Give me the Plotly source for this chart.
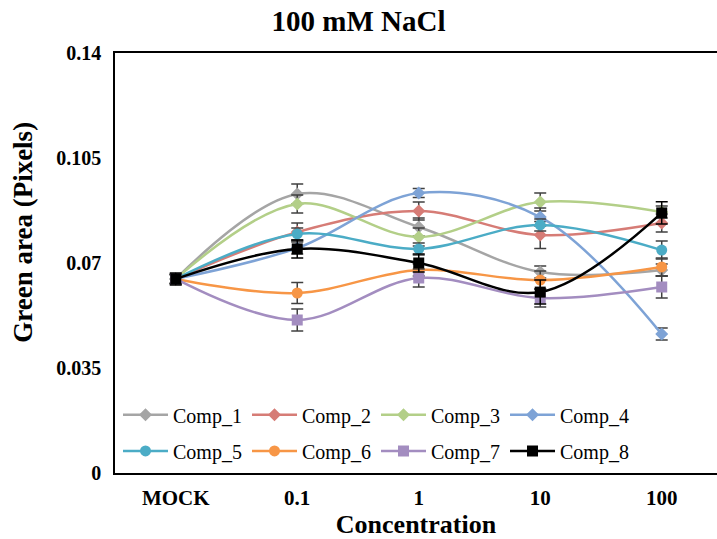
import plotly.graph_objects as go

categories = ["MOCK", "0.1", "1", "10", "100"]
series_names = ["Comp_1", "Comp_2", "Comp_3", "Comp_4", "Comp_5", "Comp_6", "Comp_7", "Comp_8"]

comp_1 = [0.0647, 0.0930, 0.0820, 0.0670, 0.0677]
comp_2 = [0.0647, 0.0803, 0.0873, 0.0793, 0.0833]
comp_3 = [0.0647, 0.0897, 0.0787, 0.0903, 0.0870]
comp_4 = [0.0647, 0.0750, 0.0933, 0.0853, 0.0463]
comp_5 = [0.0647, 0.0797, 0.0747, 0.0827, 0.0743]
comp_6 = [0.0647, 0.0600, 0.0677, 0.0643, 0.0687]
comp_7 = [0.0647, 0.0510, 0.0650, 0.0583, 0.0620]
comp_8 = [0.0647, 0.0747, 0.0700, 0.0603, 0.0867]

err_1 = [0.0015, 0.0033, 0.0030, 0.0020, 0.0020]
err_2 = [0.0015, 0.0030, 0.0030, 0.0045, 0.0030]
err_3 = [0.0015, 0.0030, 0.0030, 0.0030, 0.0020]
err_4 = [0.0015, 0.0020, 0.0015, 0.0030, 0.0020]
err_5 = [0.0015, 0.0020, 0.0020, 0.0020, 0.0030]
err_6 = [0.0015, 0.0035, 0.0020, 0.0030, 0.0030]
err_7 = [0.0015, 0.0037, 0.0030, 0.0030, 0.0037]
err_8 = [0.0020, 0.0030, 0.0030, 0.0040, 0.0037]

values = [comp_1, comp_2, comp_3, comp_4, comp_5, comp_6, comp_7, comp_8]
errors = [err_1, err_2, err_3, err_4, err_5, err_6, err_7, err_8]
colors = ["#A5A5A5", "#D67C76", "#B3CF88", "#7EA3D6", "#4BACC6", "#F79646", "#A38DC0", "#000000"]
symbols = ["diamond", "diamond", "diamond", "diamond", "circle", "circle", "square", "square"]
sizes = [10, 10, 10, 10, 11, 11, 11, 11]

SERIF = "Liberation Serif"

fig = go.Figure()
for i, (name, v, e, c, s, sz) in enumerate(zip(series_names, values, errors, colors, symbols, sizes)):
    ecol = "#000000" if c == "#000000" else "#404040"
    fig.add_trace(go.Scatter(
        x=categories, y=v, name=name, mode="lines+markers",
        legend="legend" if i < 4 else "legend2",
        line=dict(color=c, width=2.5, shape="spline", smoothing=1.0),
        marker=dict(symbol=s, size=sz, color=c),
        error_y=dict(type="data", array=e, visible=True, color=ecol, thickness=1.5, width=6),
    ))

leg_common = dict(orientation="h", x=0.005, xanchor="left", yanchor="top",
                  entrywidth=69, entrywidthmode="pixels",
                  font=dict(family=SERIF, size=20, color="black"),
                  bgcolor="rgba(255,255,255,0)", itemwidth=45)

fig.update_layout(
    width=717, height=539,
    margin=dict(l=115, r=0, t=53, b=66),
    paper_bgcolor="white", plot_bgcolor="white",
    font=dict(family=SERIF, color="black", size=20),
    title=dict(text="<b>100 mM NaCl</b>", x=0.5, xref="container", xanchor="center",
               y=1 - 21 / 539, yanchor="middle", yref="container",
               font=dict(family=SERIF, size=29, color="black")),
    showlegend=True,
    legend=dict(y=0.185, **leg_common),
    legend2=dict(y=0.099, **leg_common),
    xaxis=dict(type="category", range=[-0.5, 4.455],
               showline=True, linecolor="black", linewidth=1.5, mirror=True,
               showgrid=False, zeroline=False, ticks="",
               tickfont=dict(family=SERIF, size=21, color="black"),
               tickprefix="<b>", ticksuffix="</b>",
               ticklabelstandoff=5,
               title=dict(text="<b>Concentration</b>", standoff=0,
                          font=dict(family=SERIF, size=26, color="black"))),
    yaxis=dict(range=[0, 0.14], tickvals=[0, 0.035, 0.07, 0.105, 0.14],
               ticktext=["<b>0</b>", "<b>0.035</b>", "<b>0.07</b>", "<b>0.105</b>", "<b>0.14</b>"],
               showline=True, linecolor="black", linewidth=1.5, mirror=False,
               showgrid=False, zeroline=False, ticks="",
               ticklabelstandoff=8,
               tickfont=dict(family=SERIF, size=20, color="black")),
)

fig.add_annotation(text="<b>Green area (Pixels)</b>", textangle=-90,
                   xref="paper", yref="paper", x=-0.153, y=0.574,
                   xanchor="center", yanchor="middle", showarrow=False,
                   font=dict(family=SERIF, size=27, color="black"))

fig.write_html("out.html")
